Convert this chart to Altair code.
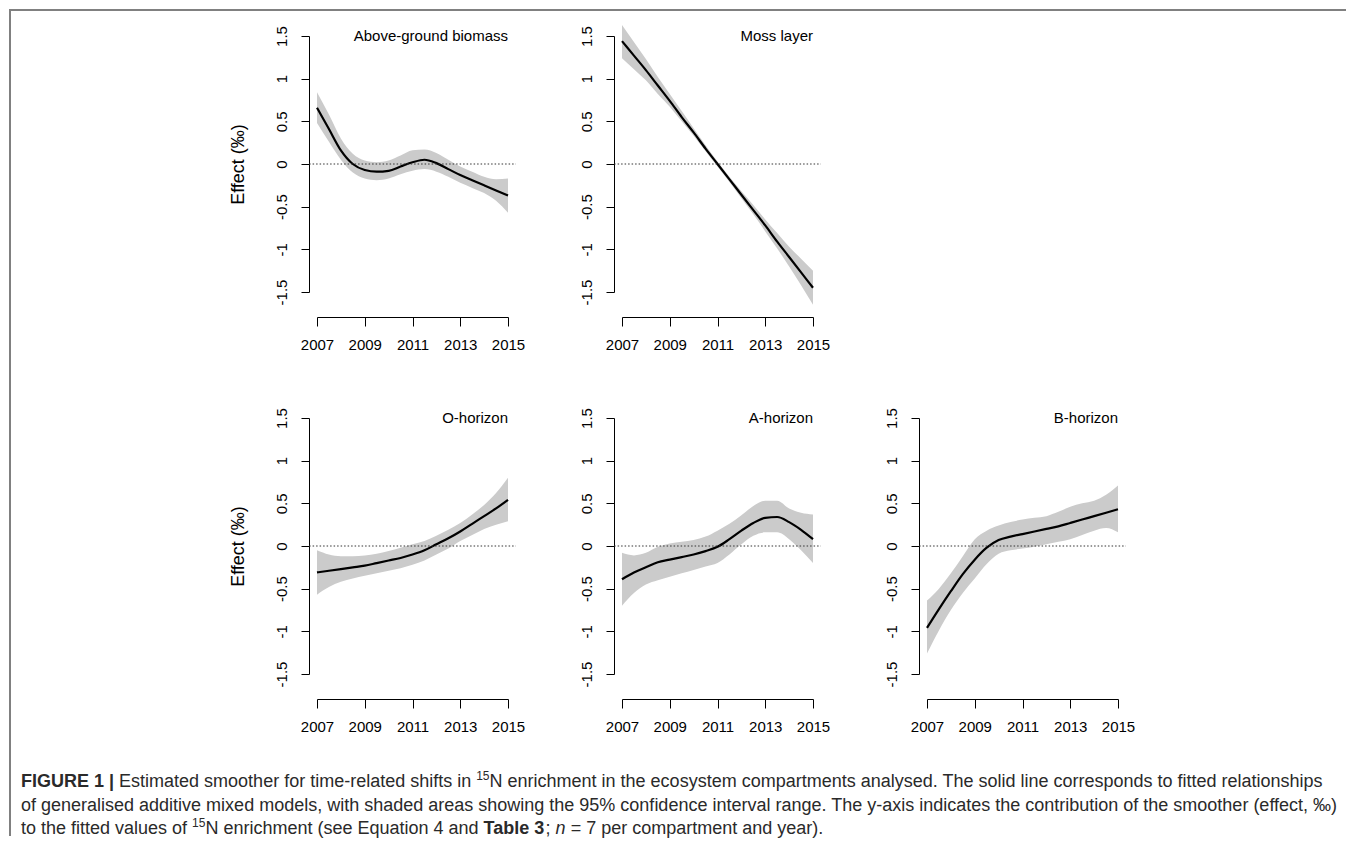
import altair as alt
import pandas as pd

FONT = "Liberation Sans"

# ---------------- data ----------------
YEARS = [2007.0, 2007.5, 2008.0, 2008.5, 2009.0, 2009.5, 2010.0, 2010.5, 2011.0,
         2011.5, 2012.0, 2012.5, 2013.0, 2013.5, 2014.0, 2014.5, 2015.0]
X_TICKS = [2007, 2008, 2009, 2010, 2011, 2012, 2013, 2014, 2015]
Y_TICKS = [-1.5, -1.0, -0.5, 0.0, 0.5, 1.0, 1.5]

PANELS = ["Above-ground biomass", "Moss layer", "O-horizon", "A-horizon", "B-horizon"]

AG_FIT = [0.66, 0.41, 0.16, 0.00, -0.07, -0.09, -0.08, -0.03, 0.02, 0.05, 0.01, -0.06, -0.13, -0.19, -0.25, -0.31, -0.37]
AG_HI = [0.84, 0.58, 0.30, 0.12, 0.04, 0.02, 0.04, 0.10, 0.16, 0.17, 0.13, 0.05, -0.03, -0.09, -0.15, -0.18, -0.17]
AG_LO = [0.48, 0.26, 0.05, -0.10, -0.17, -0.19, -0.17, -0.12, -0.08, -0.06, -0.09, -0.15, -0.22, -0.28, -0.34, -0.43, -0.57]

MOSS_FIT = [1.44, 1.27, 1.10, 0.92, 0.74, 0.55, 0.37, 0.18, 0.00, -0.18, -0.36, -0.54, -0.72, -0.91, -1.09, -1.27, -1.45]
MOSS_HI = [1.63, 1.43, 1.23, 1.02, 0.82, 0.62, 0.42, 0.22, 0.03, -0.15, -0.32, -0.48, -0.65, -0.81, -0.97, -1.11, -1.25]
MOSS_LO = [1.24, 1.11, 0.98, 0.82, 0.67, 0.50, 0.33, 0.15, -0.03, -0.21, -0.40, -0.59, -0.79, -0.99, -1.20, -1.42, -1.65]

O_FIT = [-0.31, -0.29, -0.27, -0.25, -0.23, -0.20, -0.17, -0.14, -0.10, -0.05, 0.02, 0.09, 0.17, 0.26, 0.35, 0.44, 0.54]
O_HI = [-0.05, -0.10, -0.12, -0.12, -0.11, -0.09, -0.06, -0.02, 0.02, 0.06, 0.12, 0.19, 0.27, 0.37, 0.48, 0.62, 0.80]
O_LO = [-0.57, -0.48, -0.42, -0.38, -0.35, -0.32, -0.29, -0.26, -0.22, -0.17, -0.10, -0.03, 0.06, 0.13, 0.20, 0.25, 0.29]

A_FIT = [-0.39, -0.31, -0.25, -0.19, -0.16, -0.13, -0.10, -0.06, -0.01, 0.08, 0.18, 0.27, 0.33, 0.34, 0.28, 0.19, 0.08]
A_HI = [-0.08, -0.11, -0.08, -0.01, 0.03, 0.05, 0.07, 0.11, 0.18, 0.26, 0.36, 0.47, 0.53, 0.53, 0.44, 0.39, 0.37]
A_LO = [-0.70, -0.55, -0.45, -0.40, -0.36, -0.32, -0.28, -0.24, -0.20, -0.10, 0.02, 0.12, 0.16, 0.16, 0.08, -0.05, -0.20]

B_FIT = [-0.96, -0.74, -0.53, -0.33, -0.16, -0.02, 0.07, 0.11, 0.14, 0.17, 0.20, 0.23, 0.27, 0.31, 0.35, 0.39, 0.43]
B_HI = [-0.64, -0.50, -0.32, -0.12, 0.08, 0.18, 0.24, 0.28, 0.31, 0.33, 0.35, 0.40, 0.46, 0.50, 0.53, 0.60, 0.71]
B_LO = [-1.26, -0.99, -0.75, -0.55, -0.38, -0.21, -0.09, -0.05, -0.03, -0.01, 0.02, 0.05, 0.08, 0.13, 0.18, 0.21, 0.16]

Y_TITLE = "Effect (‰)"

CAPTION_L1 = ["FIGURE 1 |", "Estimated smoother for time-related shifts in", "15",
              "N enrichment in the ecosystem compartments analysed. The solid line corresponds to fitted relationships"]
CAPTION_L2 = "of generalised additive mixed models, with shaded areas showing the 95% confidence interval range. The y-axis indicates the contribution of the smoother (effect, ‰)"
CAPTION_L3 = ["to the fitted values of", "15", "N enrichment (see Equation 4 and", "Table 3", ";", "n",
              "= 7 per compartment and year)."]

# ---------------- text metrics (Arial / Liberation Sans) ----------------
REG_W = [278, 278, 355, 556, 556, 889, 667, 191, 333, 333, 389, 584, 278, 333, 278, 278,
         556, 556, 556, 556, 556, 556, 556, 556, 556, 556, 278, 278, 584, 584, 584, 556,
         1015, 667, 667, 722, 722, 667, 611, 778, 722, 278, 500, 667, 556, 833, 722, 778,
         667, 778, 722, 667, 611, 722, 667, 944, 667, 667, 611, 278, 278, 278, 469, 556,
         333, 556, 556, 500, 556, 556, 278, 556, 556, 222, 222, 500, 222, 833, 556, 556,
         556, 556, 333, 500, 278, 556, 500, 722, 500, 500, 500, 334, 260, 334, 584]
BOLD_W = [278, 333, 474, 556, 556, 889, 722, 238, 333, 333, 389, 584, 278, 333, 278, 278,
          556, 556, 556, 556, 556, 556, 556, 556, 556, 556, 333, 333, 584, 584, 584, 611,
          975, 722, 722, 722, 722, 667, 611, 778, 722, 278, 556, 722, 611, 833, 722, 778,
          667, 778, 722, 667, 611, 722, 667, 944, 667, 667, 611, 333, 278, 333, 584, 556,
          333, 556, 611, 556, 611, 556, 333, 611, 611, 278, 278, 556, 278, 889, 611, 611,
          611, 611, 389, 556, 333, 611, 556, 778, 556, 556, 500, 389, 280, 389, 584]


def tw(s, size, bold=False):
    tbl = BOLD_W if bold else REG_W
    total = 0
    for c in s:
        o = ord(c)
        if 32 <= o <= 126:
            total += tbl[o - 32]
        elif c == "‰":
            total += 1000
        else:
            total += 556
    return total * size / 1000.0


ONE = pd.DataFrame({"k": [0]})
CAP_SIZE = 18
SUP_SIZE = 12
CAP_COLOR = "#2a2a2a"


def text_at(txt, x, y, size=CAP_SIZE, weight="normal", style="normal", color=CAP_COLOR):
    return alt.Chart(ONE).mark_text(
        text=txt, align="left", baseline="alphabetic", font=FONT, fontSize=size,
        fontWeight=weight, fontStyle=style, color=color
    ).encode(x=alt.value(x), y=alt.value(y))


def caption_layers(x0, b1, b2, b3):
    sp = tw(" ", CAP_SIZE)
    layers = []
    x = x0
    layers.append(text_at(CAPTION_L1[0], x, b1, weight="bold"))
    x += tw(CAPTION_L1[0], CAP_SIZE, True) + sp
    layers.append(text_at(CAPTION_L1[1], x, b1))
    x += tw(CAPTION_L1[1], CAP_SIZE) + sp
    layers.append(text_at(CAPTION_L1[2], x, b1 - 7, size=SUP_SIZE))
    x += tw(CAPTION_L1[2], SUP_SIZE)
    layers.append(text_at(CAPTION_L1[3], x, b1))
    layers.append(text_at(CAPTION_L2, x0, b2))
    x = x0
    layers.append(text_at(CAPTION_L3[0], x, b3))
    x += tw(CAPTION_L3[0], CAP_SIZE) + sp
    layers.append(text_at(CAPTION_L3[1], x, b3 - 7, size=SUP_SIZE))
    x += tw(CAPTION_L3[1], SUP_SIZE)
    layers.append(text_at(CAPTION_L3[2], x, b3))
    x += tw(CAPTION_L3[2], CAP_SIZE) + sp
    layers.append(text_at(CAPTION_L3[3], x, b3, weight="bold"))
    x += tw(CAPTION_L3[3], CAP_SIZE, True)
    layers.append(text_at(CAPTION_L3[4], x, b3))
    x += tw(CAPTION_L3[4], CAP_SIZE) + sp
    layers.append(text_at(CAPTION_L3[5], x, b3, style="italic"))
    x += tw(CAPTION_L3[5], CAP_SIZE) + sp
    layers.append(text_at(CAPTION_L3[6], x, b3))
    return layers


def frame_layers():
    st = dict(color="#808080", strokeWidth=2, strokeCap="square")
    left = alt.Chart(ONE).mark_rule(**st).encode(
        x=alt.value(-307), y=alt.value(-26), y2=alt.value(799))
    top = alt.Chart(ONE).mark_rule(**st).encode(
        x=alt.value(-307), x2=alt.value(1028), y=alt.value(-26))
    return [left, top]


W, H = 191, 256


def panel(name, fit, lo, hi, with_title, extra=()):
    df = pd.DataFrame({"year": YEARS, "fit": fit, "lo": lo, "hi": hi})
    xs = alt.Scale(domain=[2007, 2015], nice=False, zero=False)
    ys = alt.Scale(domain=[-1.5, 1.5], nice=False, zero=False)
    xax = alt.Axis(values=X_TICKS, labelExpr="datum.value % 2 == 1 ? '' + datum.value : ''",
                   offset=25, tickSize=9, labelPadding=11, labelFontSize=15, labelFont=FONT,
                   labelColor="black", domainColor="black", tickColor="black", domainWidth=1,
                   tickWidth=1, grid=False, labelFlush=False, labelOverlap=False)
    yax = alt.Axis(values=Y_TICKS, labelExpr="'' + datum.value", offset=8, tickSize=8,
                   labelAngle=270, labelAlign="center", labelBaseline="alphabetic",
                   labelPadding=15, labelFontSize=15, labelFont=FONT, labelColor="black",
                   domainColor="black", tickColor="black", domainWidth=1, tickWidth=1,
                   grid=False, labelOverlap=False, labelFlush=False,
                   titleFont=FONT, titleFontSize=18, titleFontWeight="normal",
                   titleColor="black", titlePadding=27)
    ytitle = Y_TITLE if with_title else None

    band = alt.Chart(df).mark_area(color="#cbcbcb", interpolate="monotone").encode(
        x=alt.X("year:Q", scale=xs, axis=xax, title=None),
        y=alt.Y("lo:Q", scale=ys, axis=yax, title=ytitle),
        y2="hi:Q",
    )
    line = alt.Chart(df).mark_line(color="black", strokeWidth=2.2, interpolate="monotone").encode(
        x=alt.X("year:Q", scale=xs, axis=xax, title=None),
        y=alt.Y("fit:Q", scale=ys, axis=yax, title=ytitle),
    )
    zero = alt.Chart(ONE).mark_rule(color="#333333", strokeWidth=1, strokeDash=[1.5, 2]).encode(
        x=alt.datum(2006.67), x2=alt.datum(2015.33), y=alt.datum(0.0))
    label = alt.Chart(ONE).mark_text(text=name, align="right", baseline="middle", font=FONT,
                                     fontSize=15, color="black").encode(
        x=alt.datum(2015), y=alt.datum(1.5))
    return alt.layer(band, line, zero, label, *extra).properties(width=W, height=H)


p1 = panel(PANELS[0], AG_FIT, AG_LO, AG_HI, True, extra=frame_layers())
p2 = panel(PANELS[1], MOSS_FIT, MOSS_LO, MOSS_HI, False)
p3 = panel(PANELS[2], O_FIT, O_LO, O_HI, True,
           extra=caption_layers(-296, 369, 393, 416))
p4 = panel(PANELS[3], A_FIT, A_LO, A_HI, False)
p5 = panel(PANELS[4], B_FIT, B_LO, B_HI, False)

# empty cell (top row, third column)
blank = alt.Chart(ONE).mark_point(opacity=0).encode(
    x=alt.value(0), y=alt.value(0)).properties(width=W, height=H)

chart = alt.concat(p1, p2, blank, p3, p4, p5, columns=3,
                   spacing={"row": 126, "column": 114}, bounds="flush").properties(
    padding=0
).configure_view(stroke="transparent")

chart.save("out.html", embed_options={"renderer": "svg", "actions": False})
